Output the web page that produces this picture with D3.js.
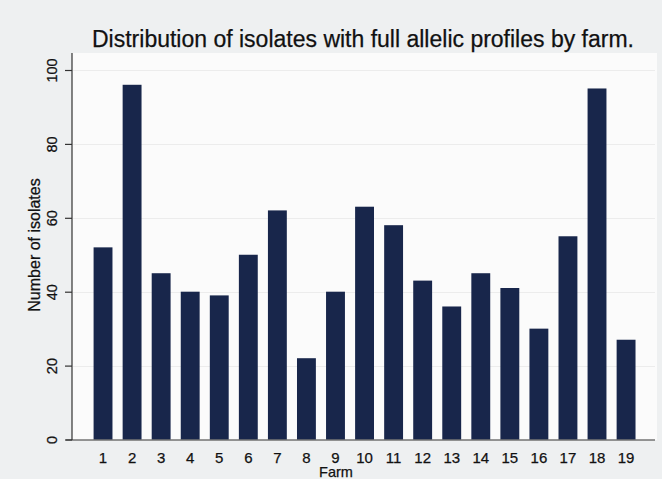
<!DOCTYPE html>
<html>
<head>
<meta charset="utf-8">
<script src="https://cdn.jsdelivr.net/npm/d3@7"></script>
<style>
  html, body { margin: 0; padding: 0; background: #eef0f1; }
  svg { display: block; font-family: "Liberation Sans", Arial, sans-serif; }
  text { fill: #111; stroke: #111; stroke-width: 0.25px; }
</style>
</head>
<body>
<svg id="chart" width="662" height="479"></svg>
<script>
// Isolates with full allelic profiles, per farm
const farms = ["1","2","3","4","5","6","7","8","9","10","11","12","13","14","15","16","17","18","19"];
const isolates = [52, 96, 45, 40, 39, 50, 62, 22, 40, 63, 58, 43, 36, 45, 41, 30, 55, 95, 27];
const yTicks = [0, 20, 40, 60, 80, 100];

const svg = d3.select("#chart");

const x = d3.scaleBand()
  .domain(farms)
  .range([88.5, 640.6])
  .paddingInner(0.35)
  .paddingOuter(0.175);

const y = d3.scaleLinear()
  .domain([0, 100])
  .range([439.5, 70]);

// plot area background
svg.append("rect")
  .attr("x", 72).attr("y", 53)
  .attr("width", 585).attr("height", 387)
  .attr("fill", "#fbfbfb");

// faint horizontal grid
svg.append("g")
  .selectAll("line")
  .data(yTicks.filter(d => d > 0))
  .join("line")
  .attr("x1", 73).attr("x2", 655)
  .attr("y1", d => Math.round(y(d)) + 0.5)
  .attr("y2", d => Math.round(y(d)) + 0.5)
  .attr("stroke", "#ececec")
  .attr("stroke-width", 1);

// bars
svg.append("g")
  .selectAll("rect")
  .data(farms.map((f, i) => ({ farm: f, value: isolates[i] })))
  .join("rect")
  .attr("x", d => x(d.farm))
  .attr("width", x.bandwidth())
  .attr("y", d => y(d.value))
  .attr("height", d => y(0) - y(d.value))
  .attr("fill", "#18264b");

// y axis: rotated tick labels centred on each tick
const yAxis = d3.axisLeft(y)
  .tickValues(yTicks)
  .tickSize(7)
  .tickSizeOuter(0);

const gy = svg.append("g")
  .attr("transform", "translate(72,0)")
  .call(yAxis);
gy.select(".domain").remove();
gy.selectAll(".tick line").attr("stroke", "#333").attr("stroke-width", 1.2);
gy.selectAll(".tick text")
  .style("font-size", "14.5px")
  .attr("text-anchor", "middle")
  .attr("transform", "rotate(-90)")
  .attr("dy", "0")
  .attr("x", 0)
  .attr("y", -15);

svg.append("line")
  .attr("x1", 72).attr("x2", 72)
  .attr("y1", 53).attr("y2", 440)
  .attr("stroke", "#333").attr("stroke-width", 1.2);

// x axis
const xAxis = d3.axisBottom(x).tickSize(0).tickPadding(12);
const gx = svg.append("g")
  .attr("transform", "translate(0,440)")
  .call(xAxis);
gx.select(".domain").remove();
gx.selectAll(".tick text")
  .style("font-size", "15px");

svg.append("line")
  .attr("x1", 66).attr("x2", 655)
  .attr("y1", 440).attr("y2", 440)
  .attr("stroke", "#333").attr("stroke-width", 1.2);

// axis titles
svg.append("text")
  .attr("x", 336).attr("y", 477)
  .attr("text-anchor", "middle")
  .style("font-size", "14.5px")
  .text("Farm");

svg.append("text")
  .attr("transform", "translate(40,245) rotate(-90)")
  .attr("text-anchor", "middle")
  .style("font-size", "16px")
  .text("Number of isolates");

// chart title
svg.append("text")
  .attr("x", 363).attr("y", 47)
  .attr("text-anchor", "middle")
  .style("font-size", "23px")
  .text("Distribution of isolates with full allelic profiles by farm.");
</script>
</body>
</html>
